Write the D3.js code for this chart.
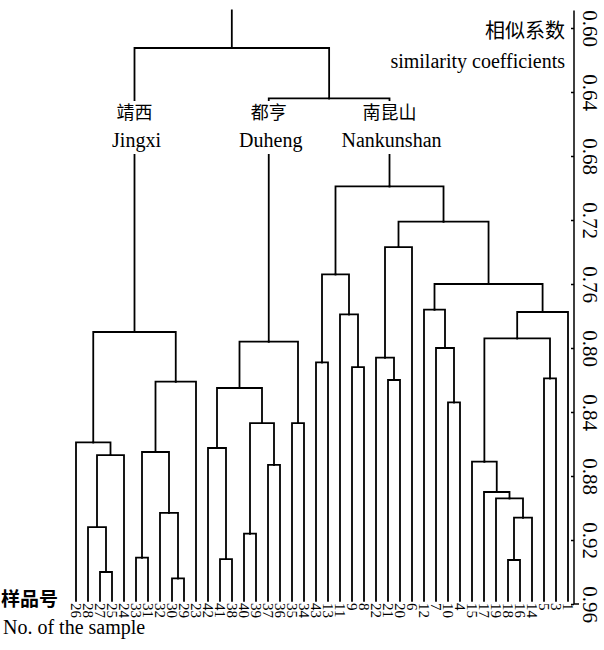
<!DOCTYPE html>
<html>
<head>
<meta charset="utf-8">
<script src="https://cdn.jsdelivr.net/npm/d3@7"></script>
<style>
  body { margin: 0; background: #fff; }
  svg { display: block; }
  .serif { font-family: "Liberation Serif", "DejaVu Serif", serif; }
  .cjk { font-family: "Noto Sans CJK SC", sans-serif; }
</style>
</head>
<body>
<svg id="chart" width="604" height="650"></svg>
<script>
// leaf order along the bottom
const leaves = [26, 28, 27, 25, 24, 33, 31, 32, 30, 29, 23,
  42, 41, 38, 40, 39, 37, 36, 35, 34,
  43, 13, 11, 9, 8, 22, 21, 20, 6, 12, 7, 10, 4, 15, 17, 19, 18, 16, 14, 5, 3, 1];

// merges: [id, left, right, similarity]
const jingxiMerges = [
  ['j1', 27, 25, 0.940],
  ['j2', 28, 'j1', 0.912],
  ['j3', 'j2', 24, 0.867],
  ['j4', 26, 'j3', 0.859],
  ['j5', 33, 31, 0.931],
  ['j6', 30, 29, 0.944],
  ['j7', 32, 'j6', 0.903],
  ['j8', 'j5', 'j7', 0.865],
  ['j9', 'j8', 23, 0.821],
  ['J', 'j4', 'j9', 0.790]
];
const duhengMerges = [
  ['d1', 41, 38, 0.932],
  ['d2', 42, 'd1', 0.8625],
  ['d3', 40, 39, 0.916],
  ['d4', 37, 36, 0.873],
  ['d5', 'd3', 'd4', 0.847],
  ['d6', 'd2', 'd5', 0.825],
  ['d7', 35, 34, 0.847],
  ['D', 'd6', 'd7', 0.796]
];
const nankunMerges = [
  ['n1', 43, 13, 0.809],
  ['n2', 9, 8, 0.812],
  ['n3', 11, 'n2', 0.779],
  ['n4', 'n1', 'n3', 0.754],
  ['n5', 21, 20, 0.820],
  ['n6', 22, 'n5', 0.806],
  ['n7', 'n6', 6, 0.737],
  ['n8', 10, 4, 0.834],
  ['n9', 7, 'n8', 0.800],
  ['n10', 12, 'n9', 0.776],
  ['n11', 18, 16, 0.9325],
  ['n12', 'n11', 14, 0.906],
  ['n13', 19, 'n12', 0.894],
  ['n14', 17, 'n13', 0.890],
  ['n15', 15, 'n14', 0.871],
  ['n16', 5, 3, 0.819],
  ['n17', 'n15', 'n16', 0.794],
  ['n18', 'n17', 1, 0.7775],
  ['n19', 'n10', 'n18', 0.760],
  ['n20', 'n7', 'n19', 0.721],
  ['N', 'n4', 'n20', 0.699]
];
const topMerges = [
  ['DN', 'D', 'N', 0.644],
  ['root', 'J', 'DN', 0.6125]
];

const tickValues = [0.60, 0.64, 0.68, 0.72, 0.76, 0.80, 0.84, 0.88, 0.92, 0.96];
const leafLevel = 0.958;
const stubTop = 0.589;

const groups = [
  { id: 'J', zh: '靖西', en: 'Jingxi' },
  { id: 'D', zh: '都亨', en: 'Duheng' },
  { id: 'N', zh: '南昆山', en: 'Nankunshan' }
];

const svg = d3.select('#chart');

const x = d3.scalePoint().domain(leaves).range([76, 568]);
const y = d3.scaleLinear().domain([0.60, 0.96]).range([28, 604]);

// build the tree
const nodes = {};
leaves.forEach((l) => { nodes[l] = { name: l, sim: leafLevel }; });
[...jingxiMerges, ...duhengMerges, ...nankunMerges, ...topMerges].forEach((m) => {
  nodes[m[0]] = { name: m[0], sim: m[3], children: [nodes[m[1]], nodes[m[2]]] };
});
const root = d3.hierarchy(nodes['root']);
root.eachAfter((d) => {
  d.px = d.children ? d3.mean(d.children, (c) => c.px) : x(d.data.name);
  d.py = y(d.data.sim);
});

const g = svg.append('g')
  .attr('fill', 'none')
  .attr('stroke', '#000')
  .attr('stroke-width', 1.8)
  .attr('stroke-linecap', 'square');

g.selectAll('path.link')
  .data(root.links())
  .enter().append('path')
  .attr('class', 'link')
  .attr('d', (d) => `M${d.source.px},${d.source.py}H${d.target.px}V${d.target.py}`);

g.append('path')
  .attr('d', `M${root.px},${root.py}V${y(stubTop)}`);

// group labels, on a white box over the vertical line
const byId = {};
root.each((d) => { byId[d.data.name] = d; });
const gl = svg.selectAll('g.group')
  .data(groups)
  .enter().append('g')
  .attr('class', 'group')
  .attr('transform', (d) => `translate(${byId[d.id].px},0)`);
gl.append('rect')
  .attr('x', -6).attr('width', 12)
  .attr('y', 101).attr('height', 53)
  .attr('fill', '#fff');
gl.append('text')
  .attr('class', 'cjk')
  .attr('y', 119)
  .attr('text-anchor', 'middle')
  .attr('font-size', 18)
  .text((d) => d.zh);
gl.append('text')
  .attr('class', 'serif')
  .attr('x', 2)
  .attr('y', 147)
  .attr('text-anchor', 'middle')
  .attr('font-size', 20)
  .text((d) => d.en);

// axis on the right
const axis = svg.append('g')
  .attr('transform', 'translate(574,0)')
  .call(d3.axisRight(y).tickValues(tickValues).tickSize(-3).tickFormat(d3.format('.2f')));
axis.select('.domain')
  .attr('d', `M0,${y(stubTop)}V${y(0.96)}H5`)
  .attr('stroke-width', 1.5);
axis.selectAll('.tick line').attr('stroke-width', 1.5);
axis.selectAll('.tick text')
  .attr('class', 'serif')
  .attr('x', null).attr('dy', null)
  .attr('transform', 'translate(16,0) rotate(90)')
  .attr('text-anchor', 'middle')
  .attr('dy', '0.35em')
  .attr('font-size', 21)
  .attr('fill', '#000');

svg.append('text')
  .attr('class', 'cjk')
  .attr('x', 565).attr('y', 38)
  .attr('text-anchor', 'end')
  .attr('font-size', 20)
  .text('相似系数');
svg.append('text')
  .attr('class', 'serif')
  .attr('x', 565).attr('y', 68)
  .attr('text-anchor', 'end')
  .attr('font-size', 20)
  .text('similarity coefficients');

// leaf labels
svg.selectAll('text.leaf')
  .data(leaves)
  .enter().append('text')
  .attr('class', 'leaf serif')
  .attr('transform', (d) => `translate(${x(d)},603) rotate(90)`)
  .attr('dy', '0.35em')
  .attr('font-size', 15)
  .text((d) => d);

svg.append('text')
  .attr('class', 'cjk')
  .attr('x', 1).attr('y', 606)
  .attr('font-size', 19)
  .attr('font-weight', 'bold')
  .text('样品号');
svg.append('text')
  .attr('class', 'serif')
  .attr('x', 3).attr('y', 634)
  .attr('font-size', 20)
  .text('No. of the sample');
</script>
</body>
</html>
